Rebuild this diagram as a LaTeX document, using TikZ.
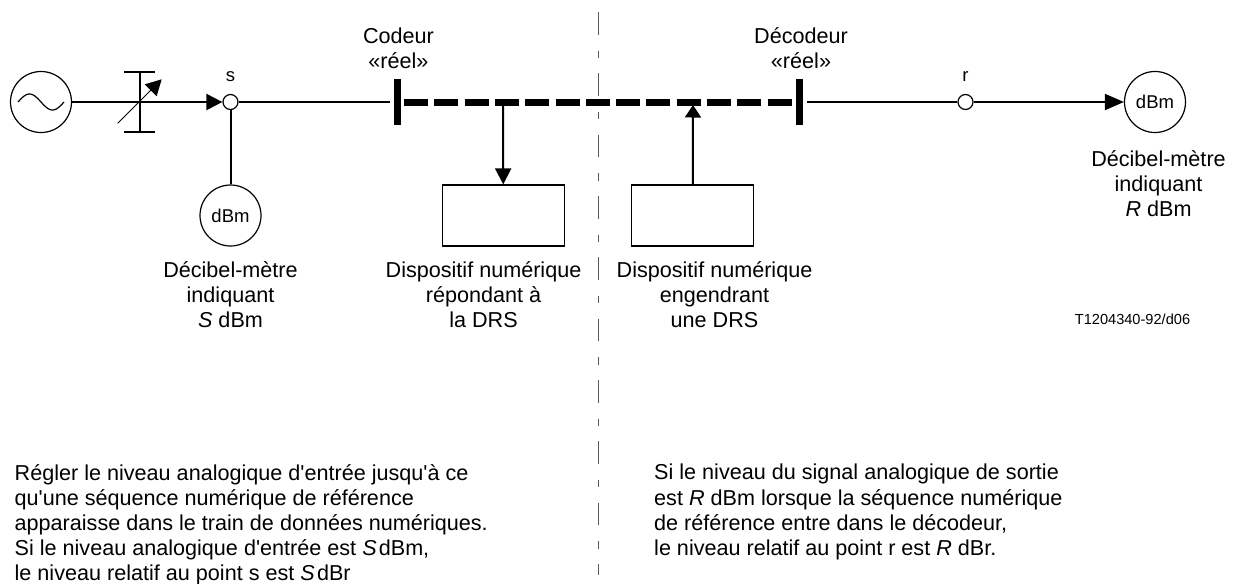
\documentclass[tikz,border=0pt]{standalone}
\usepackage{fontspec}
\setmainfont{Liberation Sans}[Ligatures=TeXOff]
\usetikzlibrary{arrows.meta, positioning}
\tikzstyle{meter} = [draw, circle, line width=1.2pt, inner sep=0, minimum size=61pt, font=\fontsize{18.5}{22}\selectfont]
\tikzstyle{point} = [draw, circle, line width=1.2pt, inner sep=0, minimum size=15pt]
\tikzstyle{device} = [draw, rectangle, line width=1.2pt, inner sep=0, minimum width=122pt, minimum height=61pt]
\tikzstyle{bar} = [fill=black, inner sep=0, minimum width=7.5pt, minimum height=46pt]
\tikzstyle{caption} = [align=center, font=\fontsize{21.6}{25}\selectfont, inner sep=0]
\tikzstyle{para} = [align=left, font=\fontsize{21.6}{25.2}\selectfont, inner sep=0, anchor=north west]
\tikzstyle{tag} = [inner sep=0, font=\fontsize{18.5}{22}\selectfont]
\tikzstyle{link} = [line width=2pt]
\tikzstyle{arrowed} = [line width=2pt, -{Triangle[length=16pt,width=16pt]}]

\begin{document}
\begin{tikzpicture}[x=1pt, y=-1pt]
  \useasboundingbox (0,0) rectangle (1235,584);
  \node[meter] (gen) at (41,102) {};
  \node[point] (s) at (230.5,102) {};
  \node[meter] (ms) at (230.5,215.5) {dBm};
  \node[bar] (cod) at (397.3,102) {};
  \node[bar] (dec) at (799.5,102) {};
  \node[point] (r) at (965.5,102) {};
  \node[meter] (mr) at (1155,102) {dBm};
  \node[device] (dev1) at (503.3,215.5) {};
  \node[device] (dev2) at (692.8,215.5) {};
  \coordinate (att) at (140,102);
  \coordinate (attT) at (140,72);
  \coordinate (attB) at (140,131.5);
  \coordinate (attS) at (117.7,123.3);
  \coordinate (attE) at (161.7,79.3);
  \coordinate (codR) at (404,102.5);
  \coordinate (decL) at (792,102.5);
  \coordinate (tap1) at (503,102.5);
  \coordinate (tap2) at (693,105);
  \coordinate (divT) at (598,12);
  \coordinate (divB) at (598,575);

  % labels
  \node[tag, above=12.5pt of s] (ls) {s};
  \node[tag, above=12.5pt of r] (lr) {r};
  \node[caption] (tcod) at (398.5,48.5) {Codeur\\«réel»};
  \node[caption] (tdec) at (801,48.5) {Décodeur\\«réel»};
  \node[caption] (tms) at (230.5,294.5) {Décibel-mètre\\indiquant\\\textit{S} dBm};
  \node[caption] (tmr) at (1158.5,184) {Décibel-mètre\\indiquant\\\textit{R} dBm};
  \node[caption] (tdev1) at (483.5,294.5) {Dispositif numérique\\répondant à\\la DRS};
  \node[caption] (tdev2) at (714.5,294.5) {Dispositif numérique\\engendrant\\une DRS};
  \node[inner sep=0, font=\fontsize{14.6}{18}\selectfont] (ref) at (1132.5,319.5) {T1204340-92/d06};
  \node[para] (tleft) at (14.5,464) {Régler le niveau analogique d'entrée jusqu'à ce\\qu'une séquence numérique de référence\\apparaisse dans le train de données numériques.\\Si le niveau analogique d'entrée est \textit{S}\hspace{0.1em}dBm,\\le niveau relatif au point s est \textit{S}\hspace{0.1em}dBr};
  \node[para] (tright) at (654,464) {Si le niveau du signal analogique de sortie\\est \textit{R} dBm lorsque la séquence numérique\\de référence entre dans le décodeur,\\le niveau relatif au point r est \textit{R} dBr.};

  % connectors
  \draw[arrowed] (gen) -- (s);
  \draw[link] (s) -- (ms);
  \draw[link, shorten >=3.5pt] (s) -- (cod);
  \draw[link, shorten <=3.5pt] (dec) -- (r);
  \draw[line width=2pt, -{Triangle[length=19pt,width=16pt]}] (r) -- (mr);
  \draw[line width=6.5pt, dash pattern=on 24pt off 6.3pt] (codR) -- (decL);
  \draw[arrowed] (tap1) -- (dev1);
  \draw[line width=2pt, -{Triangle[length=12.5pt,width=16pt]}] (dev2) -- (tap2);

  % attenuator
  \draw[link] (attT) -- (attB);
  \draw[link] ([xshift=-16pt]attT) -- ([xshift=15pt]attT);
  \draw[link] ([xshift=-16pt]attB) -- ([xshift=15pt]attB);
  \draw[line width=1pt, -{Triangle[length=15.5pt,width=16.5pt]}] (attS) -- (attE);

  % sine
  \draw[line width=1.2pt, domain=18:64, samples=40, smooth] plot (\x, {102-8*sin((\x-18)/46*360)});

  % divider
  \draw[line width=1pt, black!65, dash pattern=on 22.5pt off 16pt on 7.5pt off 15.35pt] (divT) -- (divB);
\end{tikzpicture}
\end{document}
